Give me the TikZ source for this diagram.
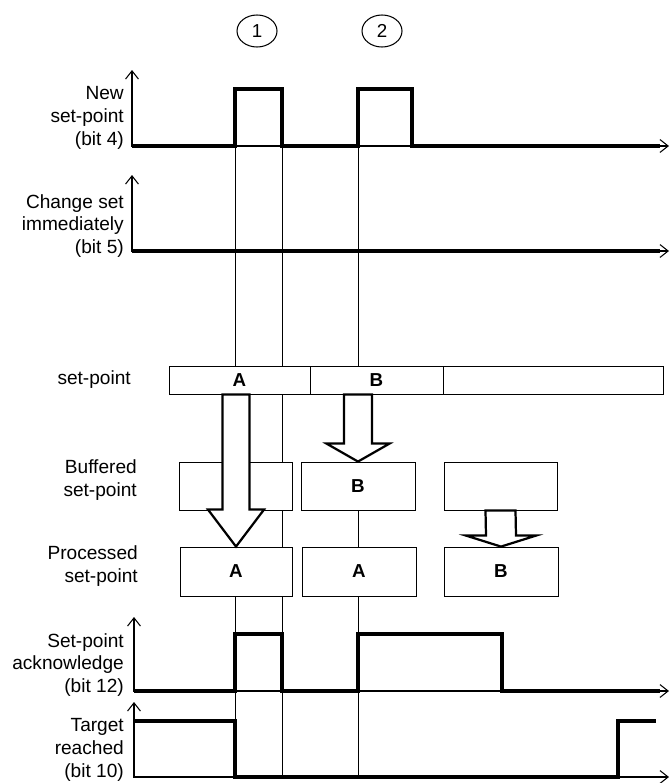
\documentclass[tikz,border=0pt]{standalone}
\usepackage{fontspec}
\setmainfont{Liberation Sans}
\usetikzlibrary{arrows.meta,calc,positioning,shapes.geometric}

\begin{document}
\begin{tikzpicture}[
    x=0.03cm, y=-0.03cm,          % 1 drawing unit = 1 px, y downwards
    >={Straight Barb[length=7pt,width=11pt]},
    font=\fontsize{16.3}{19.4}\selectfont,
    axis/.style={<->,line width=0.9pt},
    sig/.style={line width=3.2pt,line join=miter},
    guide/.style={line width=0.55pt},
    cell/.style={draw,fill=white,line width=0.7pt,inner sep=0pt,
                 font=\fontsize{16}{18}\selectfont\bfseries},
    fat/.style={draw,fill=white,line width=1.9pt,line join=miter},
    lbl/.style={align=right,anchor=east,inner sep=0pt},
    mark circ/.style={ellipse,draw,line width=0.9pt,inner sep=0pt,
                 minimum width=1.2cm,minimum height=0.96cm,font=\fontsize{16}{18}\selectfont},
  ]
  \useasboundingbox (0,0) rectangle (669,783);

  %% ---------------- helpers ----------------
  % box from (x1,y1) to (x2,y2) in px, as a named node
  \newcommand{\cellbox}[6]{%
    \node[cell,minimum width={(#4-#2)*0.03cm},minimum height={(#5-#3)*0.03cm}]
      (#1) at ({(#2+#4)/2},{(#3+#5)/2}) {#6};}
  % hollow arrow from coordinate #1 (top) to #2 (tip): shaft half, head half, head length
  \newcommand{\fatarrow}[5]{%
    \draw[fat] ($(#1)+(-#3,0)$) -- ($(#2)+(-#3,-#5)$) -- ($(#2)+(-#4,-#5)$) -- (#2)
      -- ($(#2)+(#4,-#5)$) -- ($(#2)+(#3,-#5)$) -- ($(#1)+(#3,0)$) -- cycle;}

  %% ---------------- event marks ----------------
  \node[mark circ] (m1) at (257,31) {1};
  \node[mark circ] (m2) at (382,31) {2};

  %% ---------------- guide lines ----------------
  \foreach \x in {235,282,358}{\draw[guide] (\x,146) -- (\x,777);}

  %% ---------------- New set-point (bit 4) ----------------
  \draw[axis] (132,70) -- (132,146) -- (669,146);
  \draw[sig] (132,146) -- (235,146) -- (235,89) -- (282,89) -- (282,146) -- (358,146)
        -- (358,89) -- (412,89) -- (412,146) -- (660,146);
  \node[lbl] (lnew) at (124,118) {New\\set-point\\(bit 4)};

  %% ---------------- Change set immediately (bit 5) ----------------
  \draw[axis] (132,175) -- (132,251) -- (669,251);
  \draw[sig] (132,251) -- (660,251);
  \node[lbl] (lchg) at (124,226) {Change set\\immediately\\(bit 5)};

  %% ---------------- set-point buffer ----------------
  \cellbox{spA}{169}{366}{310}{394}{A}
  \cellbox{spB}{310}{366}{443}{394}{B}
  \cellbox{spC}{443}{366}{663}{394}{}
  \node[lbl] (lsp) at (131,380) {set-point};

  \cellbox{buf1}{179}{462}{292}{510}{}
  \cellbox{buf2}{301}{462}{415}{510}{B}
  \cellbox{buf3}{444}{462}{557}{510}{}
  \node[lbl] (lbuf) at (137,480) {Buffered\\set-point};

  \cellbox{proc1}{180}{547}{292}{596}{A}
  \cellbox{proc2}{302}{547}{416}{596}{A}
  \cellbox{proc3}{444}{547}{558}{596}{B}
  \node[lbl] (lproc) at (138,566) {Processed\\set-point};

  \coordinate (aTop) at (spA.south -| proc1.north);
  \coordinate (bTop) at (spB.south -| buf2.north);
  \fatarrow{aTop}{proc1.north}{13.5}{28}{37}
  \fatarrow{bTop}{buf2.north}{14}{31.5}{18}
  \fatarrow{buf3.south}{proc3.north}{15}{35}{11}

  %% ---------------- Set-point acknowledge (bit 12) ----------------
  \draw[axis] (134,617) -- (134,691) -- (669,691);
  \draw[sig] (134,691) -- (235,691) -- (235,634) -- (282,634) -- (282,691) -- (358,691)
        -- (358,634) -- (502,634) -- (502,691) -- (660,691);
  \node[lbl] (lack) at (124,665) {Set-point\\acknowledge\\(bit 12)};

  %% ---------------- Target reached (bit 10) ----------------
  \draw[axis] (134,702) -- (134,777) -- (669,777);
  \draw[sig] (134,721) -- (235,721) -- (235,777) -- (618,777) -- (618,721) -- (656,721);
  \node[lbl] (ltgt) at (124,750) {Target\\reached\\(bit 10)};
\end{tikzpicture}
\end{document}
